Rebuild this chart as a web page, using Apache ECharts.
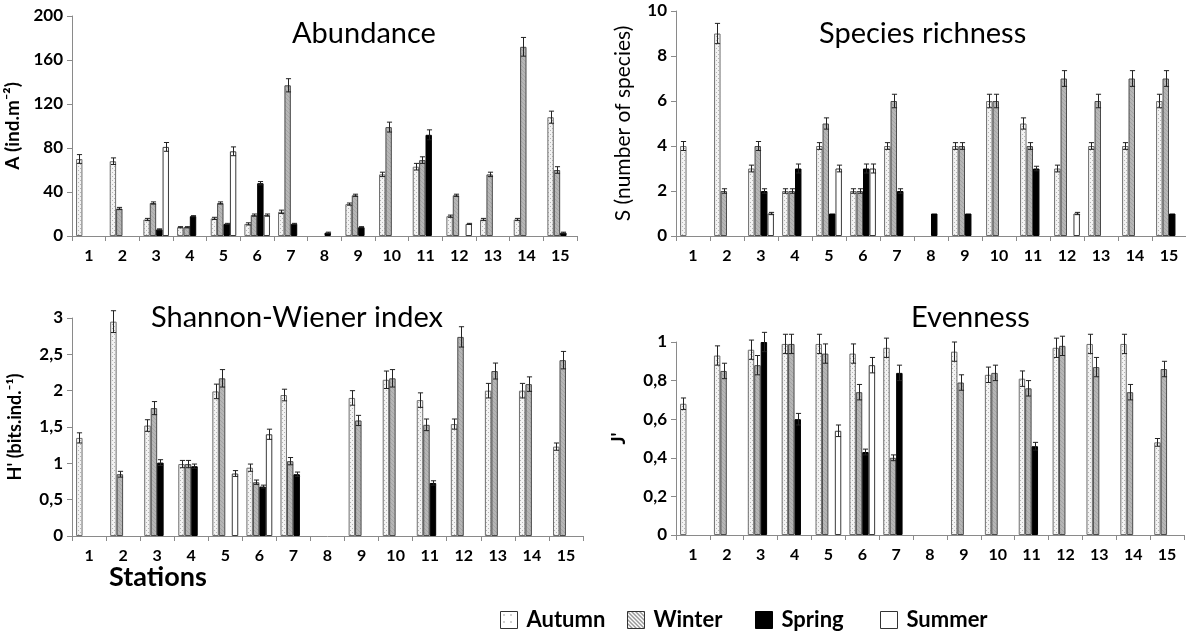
<!DOCTYPE html>
<html>
<head>
<meta charset="utf-8">
<script src="https://cdn.jsdelivr.net/npm/echarts@6/dist/echarts.min.js"></script>
<style>
  html, body { margin: 0; padding: 0; background: #fff; }
  #chart { width: 1186px; height: 632px; }
</style>
</head>
<body>
<div id="chart"></div>
<script>
const stations = ['1','2','3','4','5','6','7','8','9','10','11','12','13','14','15'];
const seasons = ['Autumn', 'Winter', 'Spring', 'Summer'];

// Abundance (ind.m-2)
const abAutumn = [70, 68, 15, 8, 16, 11, 22, null, 29, 56, 63, 18, 15, 15, 108];
const abWinter = [null, 25, 30, 8, 30, 19, 137, null, 37, 99, 69, 37, 56, 172, 60];
const abSpring = [null, null, 6, 18, 11, 48, 11, 3, 8, null, 92, null, null, null, 3];
const abSummer = [null, null, 81, null, 77, 19, null, null, null, null, null, 11, null, null, null];
const abAutumnErr = [4, 3, 1, 0.5, 1, 1, 1.5, 0, 1, 2, 3, 1, 1, 1, 5.5];
const abWinterErr = [0, 1, 1, 0.5, 1, 1, 6, 0, 1, 4.5, 3, 1, 2, 8.5, 3];
const abSpringErr = [0, 0, 0.5, 0.5, 0.5, 1.5, 0.5, 0.5, 0.5, 0, 4.5, 0, 0, 0, 0.5];
const abSummerErr = [0, 0, 4, 0, 4, 1, 0, 0, 0, 0, 0, 0.5, 0, 0, 0];

// Species richness
const srAutumn = [4, 9, 3, 2, 4, 2, 4, null, 4, 6, 5, 3, 4, 4, 6];
const srWinter = [null, 2, 4, 2, 5, 2, 6, null, 4, 6, 4, 7, 6, 7, 7];
const srSpring = [null, null, 2, 3, 1, 3, 2, 1, 1, null, 3, null, null, null, 1];
const srSummer = [null, null, 1, null, 3, 3, null, null, null, null, null, 1, null, null, null];
const srAutumnErr = [0.2, 0.45, 0.15, 0.1, 0.15, 0.1, 0.15, 0, 0.15, 0.3, 0.25, 0.15, 0.15, 0.15, 0.3];
const srWinterErr = [0, 0.1, 0.2, 0.1, 0.25, 0.1, 0.3, 0, 0.15, 0.3, 0.15, 0.35, 0.3, 0.35, 0.35];
const srSpringErr = [0, 0, 0.1, 0.2, 0, 0.2, 0.1, 0, 0, 0, 0.1, 0, 0, 0, 0];
const srSummerErr = [0, 0, 0.05, 0, 0.15, 0.2, 0, 0, 0, 0, 0, 0.05, 0, 0, 0];

// Shannon-Wiener index
const shAutumn = [1.35, 2.95, 1.52, 0.99, 1.99, 0.94, 1.94, null, 1.9, 2.15, 1.87, 1.54, 2.0, 2.0, 1.23];
const shWinter = [null, 0.85, 1.76, 0.99, 2.17, 0.74, 1.03, null, 1.59, 2.17, 1.53, 2.74, 2.27, 2.09, 2.42];
const shSpring = [null, null, 1.01, 0.96, null, 0.68, 0.85, null, null, null, 0.73, null, null, null, null];
const shSummer = [null, null, null, null, 0.86, 1.4, null, null, null, null, null, null, null, null, null];
const shAutumnErr = [0.07, 0.15, 0.08, 0.05, 0.1, 0.05, 0.08, 0, 0.1, 0.12, 0.1, 0.07, 0.1, 0.1, 0.05];
const shWinterErr = [0, 0.04, 0.09, 0.05, 0.12, 0.03, 0.05, 0, 0.07, 0.12, 0.08, 0.14, 0.11, 0.1, 0.12];
const shSpringErr = [0, 0, 0.04, 0.03, 0, 0.02, 0.03, 0, 0, 0, 0.03, 0, 0, 0, 0];
const shSummerErr = [0, 0, 0, 0, 0.04, 0.07, 0, 0, 0, 0, 0, 0, 0, 0, 0];

// Evenness
const evAutumn = [0.68, 0.93, 0.96, 0.99, 0.99, 0.94, 0.97, null, 0.95, 0.83, 0.81, 0.97, 0.99, 0.99, 0.48];
const evWinter = [null, 0.85, 0.88, 0.99, 0.94, 0.74, 0.40, null, 0.79, 0.84, 0.76, 0.98, 0.87, 0.74, 0.86];
const evSpring = [null, null, 1.0, 0.6, null, 0.43, 0.84, null, null, null, 0.46, null, null, null, null];
const evSummer = [null, null, null, null, 0.54, 0.88, null, null, null, null, null, null, null, null, null];
const evAutumnErr = [0.03, 0.05, 0.05, 0.05, 0.05, 0.05, 0.05, 0, 0.05, 0.04, 0.04, 0.05, 0.05, 0.05, 0.02];
const evWinterErr = [0, 0.04, 0.05, 0.05, 0.05, 0.04, 0.015, 0, 0.04, 0.04, 0.04, 0.05, 0.05, 0.04, 0.04];
const evSpringErr = [0, 0, 0.05, 0.03, 0, 0.015, 0.04, 0, 0, 0, 0.02, 0, 0, 0, 0];
const evSummerErr = [0, 0, 0, 0, 0.03, 0.04, 0, 0, 0, 0, 0, 0, 0, 0, 0];

const FONT = 'Lato, "Open Sans", sans-serif';
const BAR_RATIO = 0.19;

// fill patterns, roughly like the Excel ones
function makePattern(kind) {
  const c = document.createElement('canvas');
  const g = c.getContext('2d');
  if (kind === 'dots') {
    c.width = 4; c.height = 4;
    g.fillStyle = '#f3f3f3'; g.fillRect(0, 0, 4, 4);
    g.fillStyle = '#b4b4b4'; g.fillRect(0, 0, 1, 1); g.fillRect(2, 2, 1, 1);
  } else if (kind === 'dotsLegend') {
    c.width = 7; c.height = 7;
    g.fillStyle = '#ffffff'; g.fillRect(0, 0, 7, 7);
    g.fillStyle = '#444'; g.fillRect(3, 3, 1, 1);
  } else if (kind === 'hatch') {
    c.width = 4; c.height = 4;
    g.fillStyle = '#b6b6b6'; g.fillRect(0, 0, 4, 4);
    g.fillStyle = '#a4a4a4';
    for (let i = 0; i < 4; i++) g.fillRect(i, i, 1, 1);
  } else {
    c.width = 4; c.height = 4;
    g.fillStyle = '#ffffff'; g.fillRect(0, 0, 4, 4);
    g.fillStyle = '#333';
    for (let i = 0; i < 4; i++) { g.fillRect(i, i, 1, 1); }
  }
  return { image: c, repeat: 'repeat' };
}

const seasonStyles = [
  { color: makePattern('dots'), borderColor: '#6e6e6e', borderWidth: 1 },
  { color: makePattern('hatch'), borderColor: '#4a4a4a', borderWidth: 1 },
  { color: '#000000', borderColor: '#000000', borderWidth: 1 },
  { color: '#ffffff', borderColor: '#3a3a3a', borderWidth: 1 }
];
const legendStyles = [
  { color: makePattern('dotsLegend'), borderColor: '#333', borderWidth: 1 },
  { color: makePattern('hatchLegend'), borderColor: '#333', borderWidth: 1 },
  { color: '#000000', borderColor: '#000', borderWidth: 1 },
  { color: '#ffffff', borderColor: '#333', borderWidth: 1 }
];

const comma = v => String(Number(v.toFixed(2))).replace('.', ',');

const panels = [
  { title: 'Abundance', titleLeft: 287, titleTop: 14, vals: [abAutumn, abWinter, abSpring, abSummer],
    errs: [abAutumnErr, abWinterErr, abSpringErr, abSummerErr], max: 200, interval: 40,
    yName: 'A (ind.m⁻²)', nameBold: true, nameSize: 19, nameGap: 50, fmt: v => String(v),
    grid: { left: 72, top: 16, width: 505, height: 220 } },
  { title: 'Species richness', titleLeft: 814, titleTop: 14, vals: [srAutumn, srWinter, srSpring, srSummer],
    errs: [srAutumnErr, srWinterErr, srSpringErr, srSummerErr], max: 10, interval: 2,
    yName: 'S (number of species)', nameBold: false, nameSize: 21, nameGap: 42, fmt: v => String(v),
    grid: { left: 676, top: 11, width: 512, height: 225 } },
  { title: 'Shannon-Wiener index', titleLeft: 146, titleTop: 298, vals: [shAutumn, shWinter, shSpring, shSummer],
    errs: [shAutumnErr, shWinterErr, shSpringErr, shSummerErr], max: 3, interval: 0.5,
    yName: "H' (bits.ind.⁻¹)", nameBold: true, nameSize: 18, nameGap: 48, fmt: comma,
    grid: { left: 72, top: 318, width: 511, height: 218 } },
  { title: 'Evenness', titleLeft: 906, titleTop: 298, vals: [evAutumn, evWinter, evSpring, evSummer],
    errs: [evAutumnErr, evWinterErr, evSpringErr, evSummerErr], max: 1, interval: 0.2,
    yName: "J'", nameBold: true, nameSize: 19, nameGap: 48, fmt: comma,
    grid: { left: 676, top: 342, width: 508, height: 193 } }
];

function errRender(s) {
  return function (params, api) {
    const x = api.value(0), v = api.value(1), e = api.value(2);
    const band = api.size([1, 0])[0];
    const bw = band * BAR_RATIO;
    const off = (s - 1.5) * bw;
    const p = api.coord([x, v]);
    const t = api.coord([x, v + e]);
    const b = api.coord([x, v - e]);
    const cx = Math.round(p[0] + off) + 0.5;
    const hw = Math.max(2, bw * 0.4);
    const st = { stroke: '#222', lineWidth: 1 };
    return {
      type: 'group',
      children: [
        { type: 'line', shape: { x1: cx, y1: t[1], x2: cx, y2: b[1] }, style: st },
        { type: 'line', shape: { x1: cx - hw, y1: t[1], x2: cx + hw, y2: t[1] }, style: st },
        { type: 'line', shape: { x1: cx - hw, y1: b[1], x2: cx + hw, y2: b[1] }, style: st }
      ]
    };
  };
}

const axisGrey = '#8a8a8a';
const grid = [], xAxis = [], yAxis = [], series = [], title = [];

panels.forEach((p, k) => {
  grid.push(p.grid);
  title.push({ text: p.title, left: p.titleLeft, top: p.titleTop,
    textStyle: { fontFamily: FONT, fontSize: 29, fontWeight: 'normal', color: '#000' } });
  xAxis.push({
    type: 'category', gridIndex: k, data: stations,
    axisLine: { lineStyle: { color: axisGrey, width: 1 } },
    axisTick: { show: true, length: 5, lineStyle: { color: axisGrey } },
    axisLabel: { fontFamily: FONT, fontWeight: 'bold', fontSize: 16, color: '#000', margin: 12, interval: 0 },
    splitLine: { show: false }
  });
  yAxis.push({
    type: 'value', gridIndex: k, min: 0, max: p.max, interval: p.interval,
    name: p.yName, nameLocation: 'middle', nameGap: p.nameGap,
    nameTextStyle: { fontFamily: FONT, fontSize: p.nameSize, fontWeight: p.nameBold ? 'bold' : 'normal', color: '#000' },
    axisLine: { show: true, lineStyle: { color: axisGrey, width: 1 } },
    axisTick: { show: true, length: 5, lineStyle: { color: axisGrey } },
    axisLabel: { fontFamily: FONT, fontWeight: 'bold', fontSize: 17, color: '#000', margin: 9, formatter: p.fmt },
    splitLine: { show: false }
  });
  p.vals.forEach((arr, s) => {
    series.push({
      name: seasons[s], type: 'bar', xAxisIndex: k, yAxisIndex: k,
      data: arr.map(v => v == null ? '-' : v),
      barWidth: (BAR_RATIO * 100) + '%', barGap: '0%',
      itemStyle: seasonStyles[s],
      emphasis: { disabled: true },
      animation: false
    });
  });
  p.vals.forEach((arr, s) => {
    const d = [];
    arr.forEach((v, i) => { if (v != null && p.errs[s][i] > 0) d.push([i, v, p.errs[s][i]]); });
    series.push({
      type: 'custom', xAxisIndex: k, yAxisIndex: k, z: 5,
      renderItem: errRender(s), data: d, clip: false, silent: true, animation: false
    });
  });
});

const legendLefts = [495, 622, 750, 875];
const legend = seasons.map((name, s) => ({
  data: [{ name: name, itemStyle: legendStyles[s] }],
  left: legendLefts[s], top: 604, orient: 'horizontal',
  itemWidth: 17, itemHeight: 17, itemGap: 4, icon: 'rect',
  textStyle: { fontFamily: FONT, fontWeight: 'bold', fontSize: 22, color: '#000', padding: [0, 0, 0, 4] },
  selectedMode: false
}));

const chart = echarts.init(document.getElementById('chart'), null, { renderer: 'canvas' });
chart.setOption({
  animation: false,
  backgroundColor: '#fff',
  title: title,
  grid: grid,
  xAxis: xAxis,
  yAxis: yAxis,
  legend: legend,
  graphic: [
    { type: 'text', left: 109, top: 564,
      style: { text: 'Stations', font: 'bold 27px ' + FONT, fill: '#000' } }
  ],
  series: series
});
</script>
</body>
</html>
